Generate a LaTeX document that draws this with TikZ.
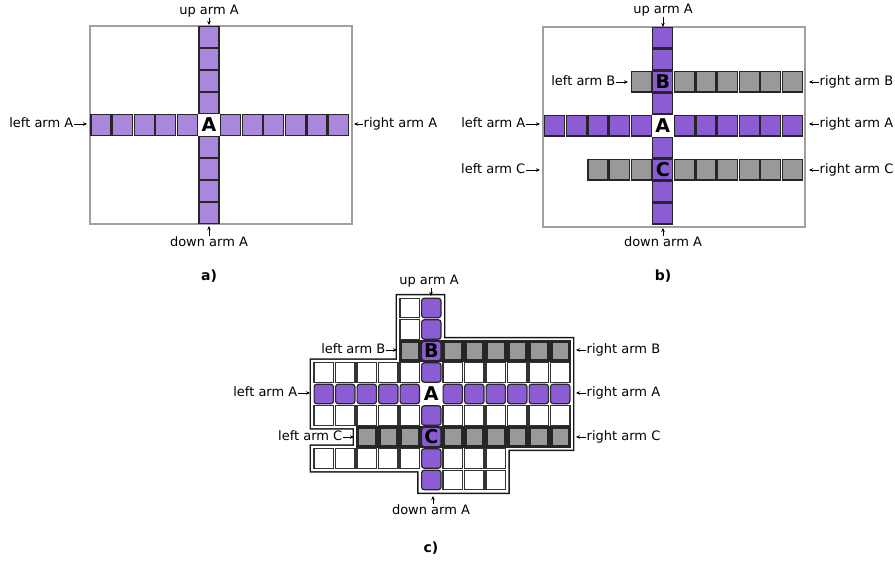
\documentclass[tikz,border=0pt]{standalone}
\usepackage{fontspec}
\setmainfont{DejaVu Sans}
\usetikzlibrary{arrows.meta}
\definecolor{purpA}{HTML}{A987DC}
\definecolor{purpB}{HTML}{8B5CD3}
\definecolor{grayC}{HTML}{999999}
\definecolor{frameC}{HTML}{A0A0A0}
\newcommand\shapepath[1]{(-1.5-#1,-4.5-#1) -- (0.5+#1,-4.5-#1) -- (0.5+#1,-2.5-#1)
  -- (6.5+#1,-2.5-#1) -- (6.5+#1,2.5+#1) -- (3.5+#1,2.5+#1) -- (3.5+#1,4.5+#1)
  -- (-0.5-#1,4.5+#1) -- (-0.5-#1,3.5+#1) -- (-5.5-#1,3.5+#1) -- (-5.5-#1,2.5-#1)
  -- (-3.5-#1,2.5-#1) -- (-3.5-#1,1.5+#1) -- (-5.5-#1,1.5+#1) -- (-5.5-#1,-1.5-#1)
  -- (-1.5-#1,-1.5-#1) -- cycle}
\begin{document}
\begin{tikzpicture}[x=1pt,y=-1pt,
  lbl/.style={font=\fontsize{13}{15}\selectfont, inner sep=0.5pt, text height=9.5pt, text depth=2.5pt},
  captxt/.style={font=\fontsize{14}{16}\selectfont\bfseries, inner sep=0pt},
  bigtxt/.style={font=\fontsize{19}{19}\selectfont\bfseries, inner sep=0pt},
  arr/.style={-{Stealth[length=4pt,width=3.5pt]}, line width=0.7pt},
  frm/.style={draw=frameC, line width=2pt},
  cpa/.style={fill=purpA, draw=black!85, line width=1.2pt},
  cpb/.style={fill=purpB, draw=black!85, line width=1.2pt},
  cgb/.style={fill=grayC, draw=black!85, line width=1.2pt},
  cpc/.style={fill=purpB, draw=black!85, line width=1.2pt, rounded corners=2.5pt},
  cwc/.style={fill=white, draw=black!80, line width=1.3pt}
]
\useasboundingbox (0,0) rectangle (895,561);

% ================= panel a =================
\draw[frm] (89.5,25.7) rectangle (351.5,224.3);
\begin{scope}[shift={(209,125)}, x=21.6pt, y=-22pt]
  \foreach \k in {-5,-4,-3,-2,-1,1,2,3,4,5,6}
    \draw[cpa] (\k-0.46,-0.46) rectangle (\k+0.46,0.46);
  \foreach \k in {-4,-3,-2,-1,1,2,3,4}
    \draw[cpa] (-0.46,\k-0.46) rectangle (0.46,\k+0.46);
\end{scope}
\node[bigtxt] (aA) at (209,125) {A};

\node[lbl] (aUl) at (209,11) {up arm A};
\coordinate (aUt) at (209,25);
\draw[arr] (aUl.south) -- (aUt);
\node[lbl] (aDl) at (209,243) {down arm A};
\coordinate (aDt) at (209,226);
\draw[arr] (aDl.north) -- (aDt);
\node[lbl, anchor=east] (aLl) at (74,124) {left arm A};
\coordinate (aLt) at (87,124);
\draw[arr] (aLl.east) -- (aLt);
\node[lbl, anchor=west] (aRl) at (363,124) {right arm A};
\coordinate (aRt) at (354,124);
\draw[arr] (aRl.west) -- (aRt);
\node[captxt] (aCap) at (209,276) {a)};

% ================= panel b =================
\draw[frm] (543.3,27.3) rectangle (805,226.7);
\begin{scope}[shift={(662.8,125.8)}, x=21.6pt, y=-22pt]
  \foreach \k in {-5,-4,-3,-2,-1,1,2,3,4,5,6}
    \draw[cpb] (\k-0.46,-0.46) rectangle (\k+0.46,0.46);
  \foreach \k in {-1,1,2,3,4,5,6}
    \draw[cgb] (\k-0.46,-2.46) rectangle (\k+0.46,-1.54);
  \foreach \k in {-3,-2,-1,1,2,3,4,5,6}
    \draw[cgb] (\k-0.46,1.54) rectangle (\k+0.46,2.46);
  \foreach \k in {-4,-3,-2,-1,1,2,3,4}
    \draw[cpb] (-0.46,\k-0.46) rectangle (0.46,\k+0.46);
\end{scope}
\node[bigtxt] (bA) at (662.8,125.8) {A};
\node[bigtxt] (bB) at (662.8,81.8) {B};
\node[bigtxt] (bC) at (662.8,169.8) {C};

\node[lbl] (bUl) at (663,10) {up arm A};
\coordinate (bUt) at (663,27);
\draw[arr] (bUl.south) -- (bUt);
\node[lbl] (bDl) at (663,243) {down arm A};
\coordinate (bDt) at (663,228);
\draw[arr] (bDl.north) -- (bDt);
\node[lbl, anchor=east] (bLBl) at (616,82) {left arm B};
\coordinate (bLBt) at (628,82);
\draw[arr] (bLBl.east) -- (bLBt);
\node[lbl, anchor=east] (bLAl) at (526,124) {left arm A};
\coordinate (bLAt) at (540,124);
\draw[arr] (bLAl.east) -- (bLAt);
\node[lbl, anchor=east] (bLCl) at (526,170) {left arm C};
\coordinate (bLCt) at (540,170);
\draw[arr] (bLCl.east) -- (bLCt);
\node[lbl, anchor=west] (bRBl) at (819,82) {right arm B};
\coordinate (bRBt) at (809,82);
\draw[arr] (bRBl.west) -- (bRBt);
\node[lbl, anchor=west] (bRAl) at (819,124) {right arm A};
\coordinate (bRAt) at (809,124);
\draw[arr] (bRAl.west) -- (bRAt);
\node[lbl, anchor=west] (bRCl) at (819,170) {right arm C};
\coordinate (bRCt) at (809,170);
\draw[arr] (bRCl.west) -- (bRCt);
\node[captxt] (bCap) at (663,276) {b)};

% ================= panel c =================
\begin{scope}[shift={(431.3,394)}, x=21.5pt, y=-21.5pt]
  \fill[black!90] \shapepath{0.16};
  \fill[white] \shapepath{0.09};
  \fill[black!85] (-1.5,-2.5) rectangle (6.5,-1.5);
  \fill[black!85] (-3.5,1.5) rectangle (6.5,2.5);
  \foreach \k in {-1,1,2,3,4,5,6}
    \fill[grayC] (\k-0.36,-2.36) rectangle (\k+0.36,-1.64);
  \foreach \k in {-3,-2,-1,1,2,3,4,5,6}
    \fill[grayC] (\k-0.36,1.64) rectangle (\k+0.36,2.36);
  \foreach \k in {-1}{
    \draw[cwc] (\k-0.45,-4.45) rectangle (\k+0.45,-3.55);
    \draw[cwc] (\k-0.45,-3.45) rectangle (\k+0.45,-2.55);}
  \foreach \k in {-5,-4,-3,-2,-1,1,2,3,4,5,6}{
    \draw[cwc] (\k-0.45,-1.45) rectangle (\k+0.45,-0.55);
    \draw[cwc] (\k-0.45,0.55) rectangle (\k+0.45,1.45);}
  \foreach \k in {-5,-4,-3,-2,-1,1,2,3}
    \draw[cwc] (\k-0.45,2.55) rectangle (\k+0.45,3.45);
  \foreach \k in {1,2,3}
    \draw[cwc] (\k-0.45,3.55) rectangle (\k+0.45,4.45);
  \foreach \k in {-5,-4,-3,-2,-1,1,2,3,4,5,6}
    \draw[cpc] (\k-0.45,-0.45) rectangle (\k+0.45,0.45);
  \foreach \k in {-4,-3,-2,-1,1,2,3,4}
    \draw[cpc] (-0.45,\k-0.45) rectangle (0.45,\k+0.45);
\end{scope}
\node[bigtxt] (cA) at (431.3,394) {A};
\node[bigtxt] (cB) at (431.3,351) {B};
\node[bigtxt] (cC) at (431.3,437) {C};

\node[lbl] (cUl) at (429,281) {up arm A};
\coordinate (cUt) at (431,296);
\draw[arr] (cUl.south -| cUt) -- (cUt);
\node[lbl] (cDl) at (431,511) {down arm A};
\coordinate (cDt) at (433,496);
\draw[arr] (cDl.north -| cDt) -- (cDt);
\node[lbl, anchor=east] (cLBl) at (386,350) {left arm B};
\coordinate (cLBt) at (397,350);
\draw[arr] (cLBl.east) -- (cLBt);
\node[lbl, anchor=east] (cLAl) at (298,393) {left arm A};
\coordinate (cLAt) at (310,393);
\draw[arr] (cLAl.east) -- (cLAt);
\node[lbl, anchor=east] (cLCl) at (343,437) {left arm C};
\coordinate (cLCt) at (354,437);
\draw[arr] (cLCl.east) -- (cLCt);
\node[lbl, anchor=west] (cRBl) at (586,350) {right arm B};
\coordinate (cRBt) at (576,350);
\draw[arr] (cRBl.west) -- (cRBt);
\node[lbl, anchor=west] (cRAl) at (586,393) {right arm A};
\coordinate (cRAt) at (576,393);
\draw[arr] (cRAl.west) -- (cRAt);
\node[lbl, anchor=west] (cRCl) at (586,437) {right arm C};
\coordinate (cRCt) at (576,437);
\draw[arr] (cRCl.west) -- (cRCt);
\node[captxt] (cCap) at (431,548) {c)};
\end{tikzpicture}
\end{document}
